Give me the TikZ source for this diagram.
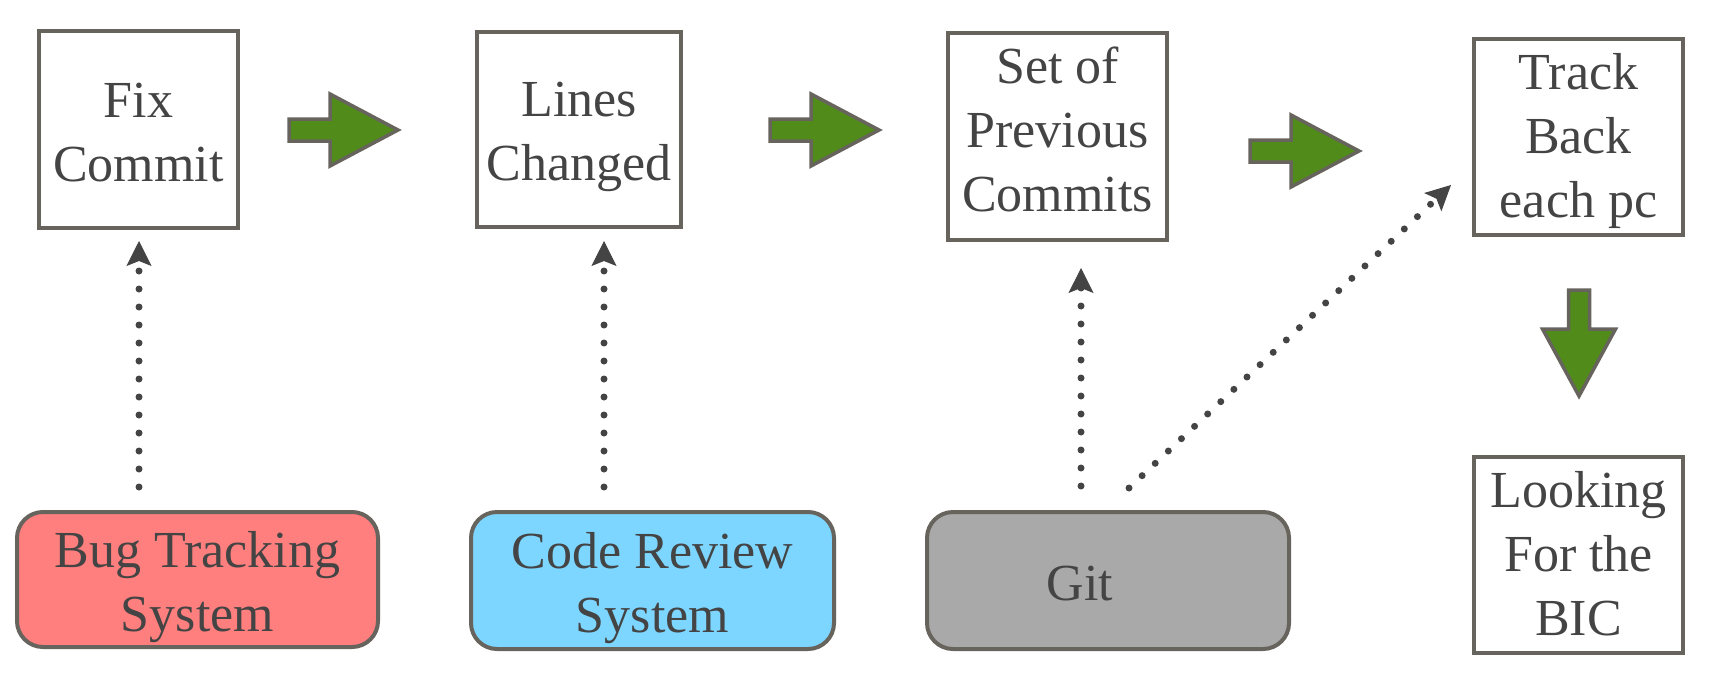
\documentclass[tikz,border=0pt]{standalone}
\usepackage{fontspec}
\setmainfont{Liberation Serif}
\usetikzlibrary{arrows.meta}
\definecolor{edge}{RGB}{103,99,93}
\definecolor{ink}{RGB}{68,68,68}
\definecolor{leaf}{RGB}{81,140,26}
\definecolor{bugred}{RGB}{255,127,127}
\definecolor{crsblue}{RGB}{125,214,255}
\definecolor{gitgray}{RGB}{169,169,169}
\newcommand\boxtext[3]{\rule{0pt}{#1}#3\rule[-#2]{0pt}{#2}}
\begin{document}
\begin{tikzpicture}[x=0.5pt,y=-0.5pt,
  stepbox/.style={draw=edge,line width=2pt,fill=white,inner sep=0pt,align=center,text=ink,font=\fontsize{26}{32}\selectfont},
  sysbox/.style={stepbox,rounded corners=13pt},
  dotarrow/.style={draw=ink,line width=3.5pt,line cap=round,dash pattern=on 0pt off 9pt,-{Stealth[length=12.5pt,width=12.5pt,inset=2.5pt,line width=0.5pt]}},
  greenarrow/.style={draw=edge,fill=leaf,line width=1.75pt,line join=miter},
  harrow/.pic={\path[greenarrow] (0,-11) -- (41,-11) -- (41,-36) -- (109,0) -- (41,36) -- (41,11) -- (0,11) -- cycle;},
  varrow/.pic={\path[greenarrow] (-10.5,0) -- (-10.5,39) -- (-36.5,39) -- (0,106) -- (36.5,39) -- (10.5,39) -- (10.5,0) -- cycle;}
]
\useasboundingbox (0,0) rectangle (1716,690);
% top row
\node[stepbox,minimum width=99.5pt,minimum height=98.5pt] (fix) at (138.5,129.5) {\boxtext{25pt}{5.5pt}{Fix\\Commit}};
\node[stepbox,minimum width=102pt,minimum height=97.5pt] (lines) at (579,129.5) {\boxtext{25pt}{5.5pt}{Lines\\Changed}};
\node[stepbox,minimum width=109.5pt,minimum height=103.5pt] (prev) at (1057.5,136.5) {\boxtext{18pt}{7.5pt}{Set of\\Previous\\Commits}};
\node[stepbox,minimum width=104.5pt,minimum height=98pt] (track) at (1578.5,137) {\boxtext{22pt}{6pt}{Track\\Back\\each pc}};
\node[stepbox,minimum width=104.5pt,minimum height=98pt] (bic) at (1578.5,555) {\boxtext{22pt}{6pt}{Looking\\For the\\BIC}};
% bottom row
\node[sysbox,fill=bugred,minimum width=180.5pt,minimum height=67.5pt] (bug) at (197.5,579.5) {\boxtext{25.5pt}{5pt}{Bug Tracking\\System}};
\node[sysbox,fill=crsblue,minimum width=181.5pt,minimum height=68.5pt] (crs) at (652.5,580.5) {\boxtext{25.5pt}{5pt}{Code Review\\System}};
\node[sysbox,fill=gitgray,minimum width=181pt,minimum height=68.5pt] (git) at (1108,580.5) {\boxtext{22pt}{2.5pt}{Git\hspace*{28pt}}};
% green block arrows
\pic at (289,130) {harrow};
\pic at (770,130) {harrow};
\pic at (1250,151) {harrow};
\pic at (1579,290) {varrow};
% dotted connectors
\coordinate (bugout) at (139,487);
\coordinate (crsout) at (604,487);
\coordinate (gitout) at (1081,486);
\coordinate (gitdiag) at (1129,488);
\coordinate (trackin) at (1451,185);
\draw[dotarrow,shorten >=5.5pt] (bugout) -- (bugout |- fix.south);
\draw[dotarrow,shorten >=6pt] (crsout) -- (crsout |- lines.south);
\draw[dotarrow,shorten >=13pt] (gitout) -- (gitout |- prev.south);
\draw[dotarrow] (gitdiag) -- (trackin);
\end{tikzpicture}
\end{document}
